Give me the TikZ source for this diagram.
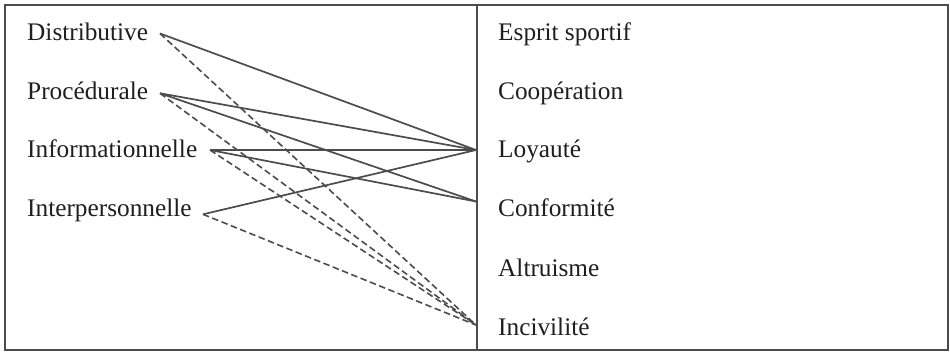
\documentclass[tikz,border=0pt]{standalone}
\usepackage{fontspec}
\setmainfont{Liberation Serif}
\begin{document}
\begin{tikzpicture}[x=1pt,y=-1pt,
  lbl/.style={anchor=base west,inner sep=0pt,text=black!88,font=\fontsize{25.3}{28}\selectfont},
  solidlink/.style={draw=black!70,line width=1.7pt},
  dashlink/.style={draw=black!70,line width=1.6pt,dash pattern=on 6.5pt off 3.5pt},
  frame/.style={draw=black!70,line width=2.2pt}]
\useasboundingbox (0,0) rectangle (950,353);
\draw[frame] (5,5) rectangle (948,350);
\draw[draw=black!70,line width=1.8pt] (477,5) -- (477,350);
% left labels
\node[lbl] (dist) at (27,40.7) {Distributive};
\node[lbl] (proc) at (27,99.3) {Procédurale};
\node[lbl] (info) at (27,157) {Informationnelle};
\node[lbl] (inter) at (27,216.7) {Interpersonnelle};
% right labels
\node[lbl] (esp) at (498,40.7) {Esprit sportif};
\node[lbl] (coop) at (498,99.3) {Coopération};
\node[lbl] (loy) at (498,157) {Loyauté};
\node[lbl] (conf) at (498,216.7) {Conformité};
\node[lbl] (alt) at (498,276) {Altruisme};
\node[lbl] (inc) at (498,335) {Incivilité};
% connector ends
\coordinate (d) at (160,33.5);
\coordinate (p) at (160,93.3);
\coordinate (i) at (210,150);
\coordinate (n) at (203,214.3);
\coordinate (L) at (476,150);
\coordinate (C) at (476,201.5);
\coordinate (I) at (476,325);
% solid links
\draw[solidlink] (d) -- (L);
\draw[solidlink] (p) -- (L);
\draw[solidlink] (p) -- (C);
\draw[solidlink] (i) -- (L);
\draw[solidlink] (i) -- (C);
\draw[solidlink] (n) -- (L);
% dashed links
\draw[dashlink] (d) -- (I);
\draw[dashlink] (p) -- (I);
\draw[dashlink] (i) -- (I);
\draw[dashlink] (n) -- (I);
\end{tikzpicture}
\end{document}
